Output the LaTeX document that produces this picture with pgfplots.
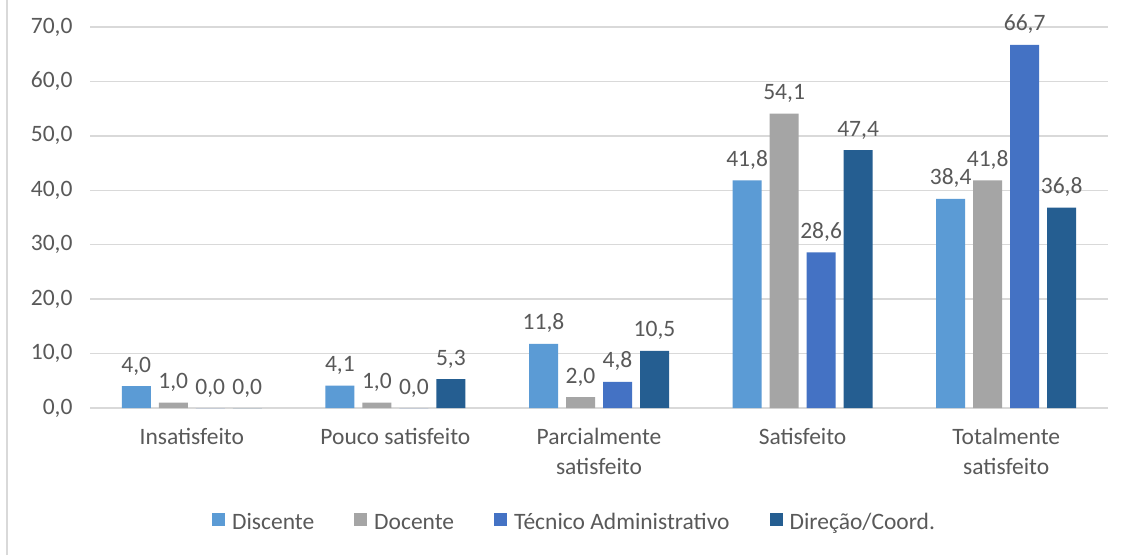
\documentclass[border=0pt]{standalone}
\usepackage{fontspec}
\setmainfont{Carlito}
\usepackage{pgfplots}
\pgfplotsset{compat=1.18}
\definecolor{c1}{HTML}{5B9BD5}
\definecolor{c2}{HTML}{A5A5A5}
\definecolor{c3}{HTML}{4472C4}
\definecolor{c4}{HTML}{255E91}
\definecolor{txt}{HTML}{595959}
\definecolor{grd}{HTML}{D9D9D9}
\begin{document}
\begin{tikzpicture}[x=1pt,y=1pt]
\useasboundingbox (0,0) rectangle (1124,555);
\fill[white] (0,0) rectangle (1124,555);
\draw[grd, line width=1.5pt] (7,0) -- (7,555);
\begin{axis}[
  at={(90pt,147pt)}, anchor=south west,
  scale only axis, width=1018pt, height=381pt,
  ybar=8pt, bar width=29pt,
  ymin=0, ymax=70, ytick={0,10,...,70},
  xmin=-0.5, xmax=4.5, xtick={0,1,2,3,4},
  xticklabels={Insatisfeito, Pouco satisfeito, {Parcialmente\\satisfeito}, Satisfeito, {Totalmente\\satisfeito}},
  axis line style={draw=none},
  major tick length=0pt,
  ymajorgrids, grid style={grd, line width=1.3pt},
  /pgf/number format/.cd, use comma, fixed, fixed zerofill, precision=1, assume math mode=true,
  /pgfplots/.cd,
  every tick label/.append style={text=txt, font=\fontsize{23.5}{30}\selectfont},
  xticklabel style={align=center, anchor=north, yshift=-17pt},
  yticklabel style={anchor=east, xshift=-14pt},
  nodes near coords,
  nodes near coords style={text=txt, font=\fontsize{23.5}{28}\selectfont, anchor=base, yshift=14pt, inner sep=0pt},
  legend style={at={(0.476,-0.300)}, anchor=center, draw=none, legend columns=-1,
    font=\fontsize{23.5}{28}\selectfont, text=txt,
    /tikz/every odd column/.append style={column sep=5pt},
    /tikz/every even column/.append style={column sep=38pt}},
  legend image code/.code={\fill[#1] (0pt,-4pt) rectangle (13pt,9pt);},
]
\addplot[fill=c1, draw=none] coordinates {(0,4.0) (1,4.1) (2,11.8) (3,41.8) (4,38.4)};
\addplot[fill=c2, draw=none] coordinates {(0,1.0) (1,1.0) (2,2.0) (3,54.1) (4,41.8)};
\addplot[fill=c3, draw=none] coordinates {(0,0.0) (1,0.0) (2,4.8) (3,28.6) (4,66.7)};
\addplot[fill=c4, draw=none] coordinates {(0,0.0) (1,5.3) (2,10.5) (3,47.4) (4,36.8)};
\legend{Discente, Docente, Técnico Administrativo, Direção/Coord.}
\end{axis}
\end{tikzpicture}
\end{document}
